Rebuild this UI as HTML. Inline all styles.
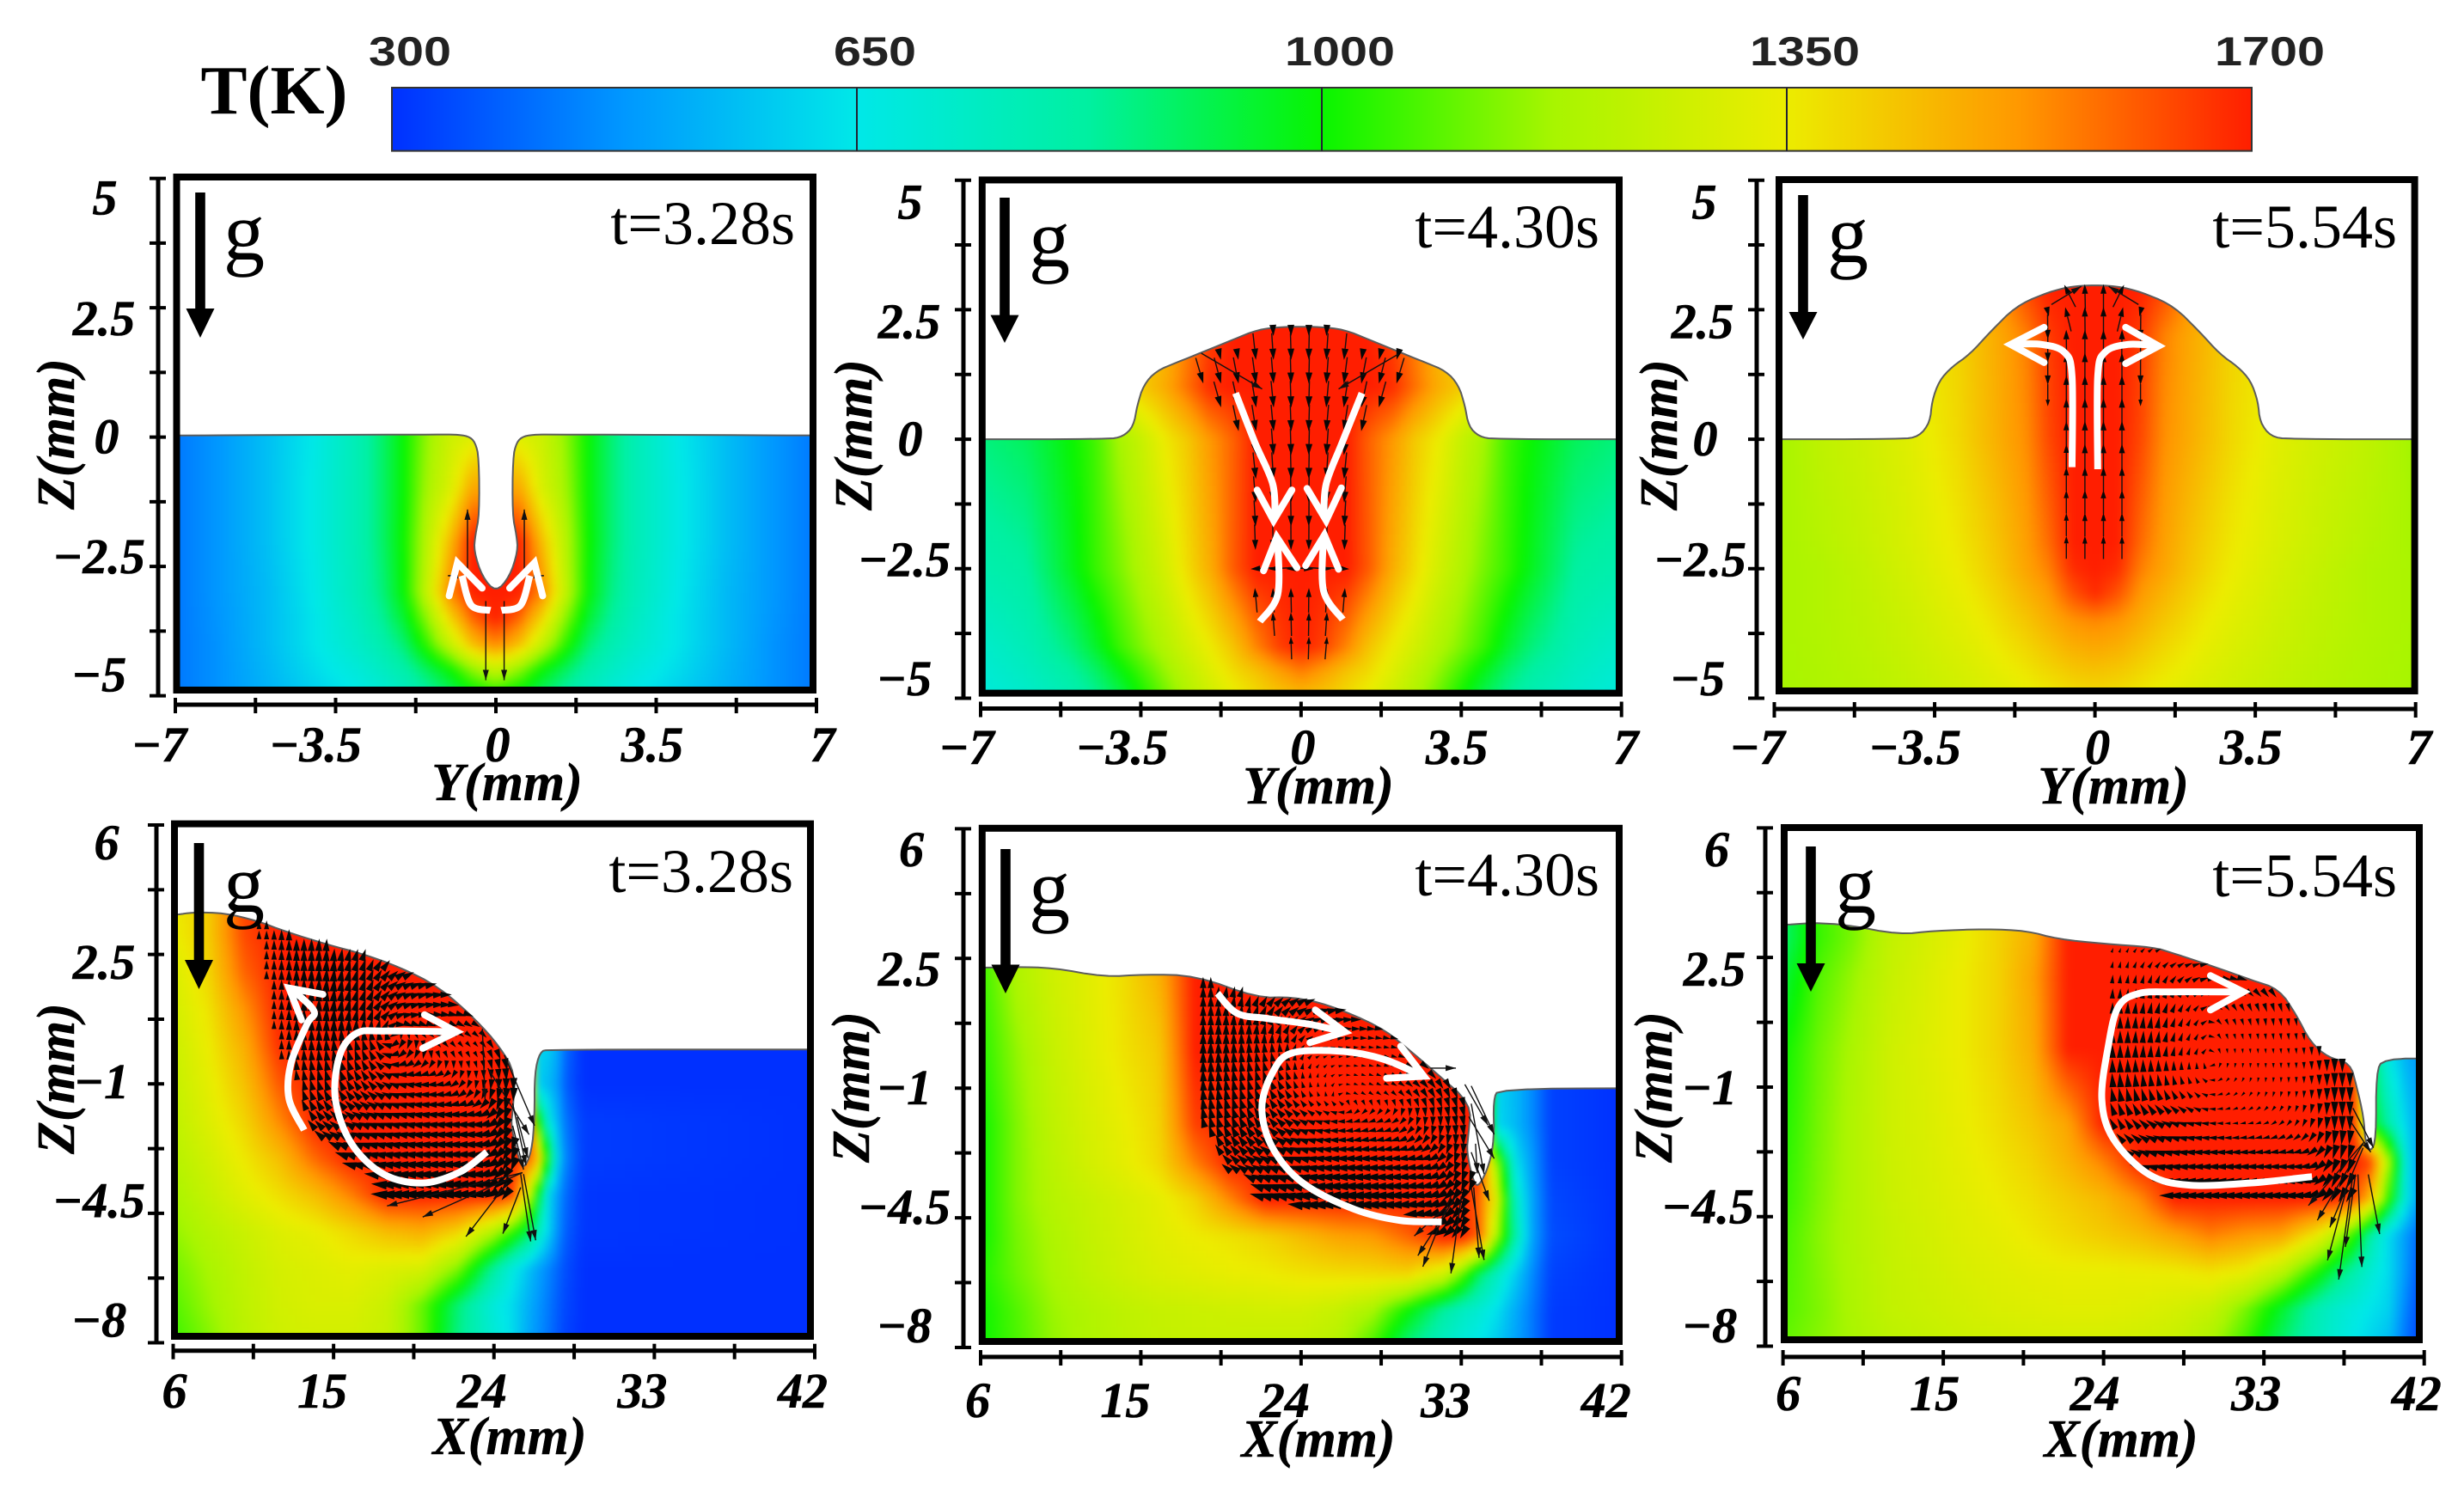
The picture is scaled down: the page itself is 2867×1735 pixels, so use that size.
<!DOCTYPE html>
<html lang="en">
<head>
<meta charset="utf-8">
<title>Weld pool temperature and flow fields</title>
<style>
html,body{margin:0;padding:0;background:#fff;}
#page{position:relative;width:2867px;height:1735px;overflow:hidden;background:#fff;}
svg{position:absolute;left:0;top:0;}
.tick{font-family:"Liberation Serif",serif;font-weight:bold;font-style:italic;font-size:58px;fill:#000;stroke:#000;stroke-width:.6px;text-anchor:middle;}
.title{font-family:"Liberation Serif",serif;font-weight:bold;font-style:italic;font-size:62px;fill:#000;stroke:#000;stroke-width:.5px;text-anchor:middle;}
.time{font-family:"Liberation Serif",serif;font-size:72px;fill:#000;text-anchor:end;}
.grav{font-family:"Liberation Serif",serif;font-size:96px;fill:#000;text-anchor:middle;}
.cb{font-family:"Liberation Sans",sans-serif;font-weight:bold;font-size:47px;fill:#222;text-anchor:middle;}
</style>
</head>
<body>
<div id="page">
<svg id="fig" width="2867" height="1735" viewBox="0 0 2867 1735" xmlns="http://www.w3.org/2000/svg">
  <defs>
    <filter id="smooth" filterUnits="userSpaceOnUse" x="0" y="0" width="2867" height="1735" color-interpolation-filters="sRGB"><feGaussianBlur stdDeviation="4"/></filter>
    <linearGradient id="cbGrad" x1="0" x2="1" y1="0" y2="0"></linearGradient>
  </defs>

  <text x="319" y="132" font-family="'Liberation Serif',serif" font-weight="bold" font-size="81" text-anchor="middle">T(K)</text>
  <g id="colorbar"></g>

  <g id="panel1"></g>
  <g id="panel2"></g>
  <g id="panel3"></g>
  <g id="panel4"></g>
  <g id="panel5"></g>
  <g id="panel6"></g>

  <g>
    <text class="time" x="925" y="284">t=3.28s</text>
    <text class="time" x="1861" y="288">t=4.30s</text>
    <text class="time" x="2789" y="288">t=5.54s</text>
    <text class="time" x="923" y="1038">t=3.28s</text>
    <text class="time" x="1861" y="1042">t=4.30s</text>
    <text class="time" x="2789" y="1043">t=5.54s</text>

    <polygon points="227.2,224 238.8,224 238.8,359 249.5,359 233,393 216.5,359 227.2,359"/>
    <polygon points="1163.2,230 1174.8,230 1174.8,366.6 1185.5,366.6 1169,399 1152.5,366.6 1163.2,366.6"/>
    <polygon points="2092.2,227 2103.8,227 2103.8,363 2114.5,363 2098,395 2081.5,363 2092.2,363"/>
    <polygon points="225.7,981 237.3,981 237.3,1117 248,1117 231.5,1151 215,1117 225.7,1117"/>
    <polygon points="1164.2,988 1175.8,988 1175.8,1122.5 1186.5,1122.5 1170,1156 1153.5,1122.5 1164.2,1122.5"/>
    <polygon points="2101.2,985 2112.8,985 2112.8,1121 2123.5,1121 2107,1154 2090.5,1121 2101.2,1121"/>

    <text class="grav" x="284" y="302">g</text>
    <text class="grav" x="1221" y="310">g</text>
    <text class="grav" x="2150" y="305">g</text>
    <text class="grav" x="284" y="1061">g</text>
    <text class="grav" x="1221" y="1066">g</text>
    <text class="grav" x="2159" y="1062">g</text>

    <text class="title" x="590" y="931">Y(mm)</text>
    <text class="title" x="1534" y="935">Y(mm)</text>
    <text class="title" x="2459" y="935">Y(mm)</text>
    <text class="title" x="593" y="1692">X(mm)</text>
    <text class="title" x="1534" y="1695">X(mm)</text>
    <text class="title" x="2468" y="1695">X(mm)</text>

    <text class="title" transform="translate(86,505) rotate(-90)">Z(mm)</text>
    <text class="title" transform="translate(1014,506) rotate(-90)">Z(mm)</text>
    <text class="title" transform="translate(1951,506) rotate(-90)">Z(mm)</text>
    <text class="title" transform="translate(86,1255) rotate(-90)">Z(mm)</text>
    <text class="title" transform="translate(1011,1265) rotate(-90)">Z(mm)</text>
    <text class="title" transform="translate(1945,1265) rotate(-90)">Z(mm)</text>
  </g>
</svg>
</div>

<script>
/* ---------- colour scale ---------- */
const colorKelvin = [300, 475, 650, 825, 1000, 1175, 1350, 1525, 1700];
const colorRGB = [[0,48,255],[0,152,255],[0,232,232],[0,240,160],[8,245,0],[168,245,0],[236,236,0],[255,152,0],[255,30,0]];
const colorbarTicks = [300, 650, 1000, 1350, 1700];
const colorbarLabels = ['300', '650', '1000', '1350', '1700'];

/* ---------- axis ticks ---------- */
const topYTicks = [-7, -3.5, 0, 3.5, 7];
const topYLabels = ['\u22127', '\u22123.5', '0', '3.5', '7'];
const topZTicks = [5, 2.5, 0, -2.5, -5];
const topZLabels = ['5', '2.5', '0', '\u22122.5', '\u22125'];
const bottomXTicks = [6, 15, 24, 33, 42];
const bottomXLabels = ['6', '15', '24', '33', '42'];
const bottomZTicks = [6, 2.5, -1, -4.5, -8];
const bottomZLabels = ['6', '2.5', '\u22121', '\u22124.5', '\u22128'];

/* ---------- panel 1 (Y section, t=3.28 s) temperature K; |Y| columns ---------- */
const temp1Cols = [0, .5, 1, 1.5, 2, 2.5, 3, 4, 5, 6, 7];
const temp1Rows = [.2, -1, -2, -3, -3.5, -4, -4.5, -5];
const temp1 = [
 [1300,1280,1260,1150,1000,880,780,650,560,480,420],
 [1500,1500,1300,1180,1000,880,780,660,560,480,420],
 [1700,1700,1450,1220,1010,880,780,660,560,480,420],
 [1700,1700,1550,1250,1000,860,770,650,550,480,420],
 [1700,1600,1400,1150,950,830,750,640,550,475,420],
 [1550,1450,1250,1050,880,790,730,640,550,470,420],
 [1250,1150,1000,900,800,740,690,620,540,470,420],
 [1000,950,880,800,740,690,650,590,530,470,420]
];
const surf1Y = [7.5,1.2,.9,.6,.45,.37,.36,.45,.48,.3,0];
const surf1Z = [.03,.05,.05,.02,-.1,-.4,-1.5,-1.9,-2.2,-2.7,-3.0];

/* ---------- panel 2 (Y section, t=4.30 s) ---------- */
const temp2Cols = [0,.5,1,1.5,2,2.5,3,3.5,4,4.5,5,6,7];
const temp2Rows = [2.2,1,0,-2.5,-4,-4.5,-5];
const temp2 = [
 [1700,1700,1700,1700,1650,1550,1450,1400,1350,1300,1200,1000,900],
 [1700,1700,1700,1700,1680,1580,1480,1420,1350,1300,1100,950,880],
 [1700,1700,1700,1600,1520,1420,1350,1250,1170,1060,1000,900,860],
 [1700,1700,1700,1610,1480,1380,1280,1200,1120,1050,970,820,790],
 [1700,1650,1550,1430,1350,1280,1200,1130,1050,950,870,770,720],
 [1560,1500,1430,1380,1310,1230,1150,1060,970,880,820,745,700],
 [1440,1420,1380,1330,1260,1190,1100,1000,900,830,780,720,680]
];
const surf2Y = [7.5,4.22,3.89,3.66,3.58,3.44,3.16,2.72,2.16,1.49,.94,.38,0];
const surf2Z = [0,0,.05,.25,.65,1.05,1.32,1.48,1.68,1.92,2.12,2.17,2.17];

/* ---------- panel 3 (Y section, t=5.54 s) ---------- */
const temp3Cols = [0,.5,1,1.5,2,2.5,3,4,5,6,7];
const temp3Rows = [3,2,0,-2,-2.5,-3,-3.5,-5];
const temp3 = [
 [1700,1700,1700,1650,1550,1500,1450,1400,1350,1300,1250],
 [1700,1700,1660,1560,1500,1450,1400,1350,1300,1250,1200],
 [1700,1700,1640,1540,1490,1440,1390,1320,1270,1230,1165],
 [1700,1700,1590,1510,1450,1400,1360,1300,1250,1210,1175],
 [1700,1680,1560,1500,1440,1390,1350,1290,1240,1200,1180],
 [1680,1620,1520,1465,1415,1370,1335,1280,1235,1200,1180],
 [1550,1530,1480,1430,1390,1350,1320,1270,1230,1200,1180],
 [1380,1370,1350,1330,1310,1290,1270,1240,1210,1190,1170]
];
const surf3Y = [7.5,4.23,3.84,3.6,3.56,3.4,3.12,2.73,2.28,1.73,1.17,.61,0];
const surf3Z = [0,0,.05,.33,.73,1.13,1.4,1.64,2.08,2.56,2.79,2.94,2.98];

/* ---------- panel 4 (X section, t=3.28 s) ---------- */
const temp4Cols = [6,8,10,12,14,16,18,20,22,24,25,26,26.5,27,27.5,28,29,42];
const temp4Rows = [4,3,2,1,0,-1,-2,-3,-4,-5,-6,-7,-8];
const temp4 = [
 [1350,1420,1650,1700,1700,1700,1700,1700,1700,1700,1700,1700,600,600,530,400,300,300],
 [1340,1420,1640,1700,1700,1700,1700,1700,1700,1700,1700,1700,600,600,530,400,300,300],
 [1300,1400,1600,1700,1700,1700,1700,1700,1700,1700,1700,1700,600,600,530,400,300,300],
 [1280,1370,1530,1700,1700,1700,1700,1700,1700,1700,1700,1700,600,600,530,400,300,300],
 [1260,1350,1480,1680,1700,1700,1700,1700,1700,1700,1700,1700,600,600,530,400,300,300],
 [1245,1330,1440,1620,1700,1700,1700,1700,1700,1700,1700,1700,600,550,500,380,300,300],
 [1230,1310,1400,1550,1700,1700,1700,1700,1700,1700,1700,1700,1000,700,550,420,320,300],
 [1210,1280,1360,1450,1600,1700,1700,1700,1700,1700,1700,1600,1450,1000,650,450,320,300],
 [1180,1250,1320,1380,1450,1560,1700,1700,1700,1700,1650,1250,950,650,500,400,310,300],
 [1150,1210,1260,1310,1340,1390,1450,1480,1400,1200,1060,900,760,620,480,380,310,300],
 [1110,1180,1240,1290,1310,1330,1310,1290,1130,820,680,560,500,450,400,350,300,300],
 [1080,1160,1230,1280,1300,1300,1260,1100,870,680,620,520,470,430,380,340,300,300],
 [1050,1130,1220,1270,1280,1280,1250,1100,850,700,630,500,460,420,370,330,300,300]
];
const surf4X = [5,6.25,7.05,8.9,10.7,12.3,14.7,16.6,18.7,20.9,23,24.3,25.2,25.05,24.95,25.35,25.66,26.12,26.28,26.28,26.58,27.05,43];
const surf4Z = [3.57,3.57,3.64,3.62,3.41,3.12,2.76,2.52,2.16,1.63,.73,.02,-.7,-1.77,-2.13,-2.96,-3.32,-2.84,-1.89,-.7,-.13,-.07,-.07];

/* ---------- panel 5 (X section, t=4.30 s) ---------- */
const temp5Cols = [6,8,10,12,14,16,18,20,22,24,26,28,30,32,33,34,35,36,37,38,42];
const temp5Rows = [3,2,0,-2,-3,-4,-5,-6,-7,-8];
const temp5 = [
 [1050,1190,1270,1320,1380,1470,1700,1700,1700,1700,1700,1700,1700,1700,1700,1700,600,550,450,330,300],
 [1050,1190,1270,1320,1380,1470,1700,1700,1700,1700,1700,1700,1700,1700,1700,1700,600,550,450,330,300],
 [1030,1150,1250,1310,1370,1420,1700,1700,1700,1700,1700,1700,1700,1700,1700,1700,600,550,450,330,300],
 [1000,1130,1230,1290,1340,1400,1650,1700,1700,1700,1700,1700,1700,1700,1700,1700,620,550,450,330,300],
 [1000,1130,1220,1280,1330,1390,1560,1700,1700,1700,1700,1700,1700,1700,1700,1700,1150,650,480,330,300],
 [1000,1130,1210,1250,1290,1330,1400,1550,1700,1700,1700,1700,1700,1700,1700,1600,1300,750,500,340,300],
 [1000,1120,1190,1240,1280,1320,1350,1370,1400,1450,1500,1520,1600,1700,1700,1600,1180,800,500,350,300],
 [1020,1110,1180,1230,1270,1300,1320,1340,1350,1370,1380,1390,1400,1280,1120,900,750,600,450,330,300],
 [1000,1080,1160,1200,1230,1250,1260,1270,1280,1280,1250,1180,1000,820,750,700,630,520,420,320,300],
 [1000,1070,1150,1190,1220,1240,1250,1250,1240,1240,1210,1060,850,730,680,640,580,500,420,320,300]
];
const surf5X = [5,6.25,7.8,10.07,12.93,15.2,18.1,21.5,23.5,25.5,28.4,29.84,31.56,33.56,33.4,33.3,33.7,34,34.57,34.85,34.8,35.1,43];
const surf5Z = [2.25,2.25,2.27,2.25,2,2.07,2.04,1.44,1.46,1.26,.67,.13,-.58,-1.42,-2.25,-2.73,-3.56,-3.65,-3.08,-2.37,-1.3,-1.02,-1];

/* ---------- panel 6 (X section, t=5.54 s) ---------- */
const temp6Cols = [6,8,10,12,14,16,18,20,22,24,26,28,30,32,34,36,37,38,39,40,41,42];
const temp6Rows = [3,2,0,-2,-3,-4,-5,-6,-7,-8];
const temp6 = [
 [880,1050,1130,1240,1290,1340,1400,1480,1700,1700,1700,1700,1700,1700,1700,1700,1700,1700,900,650,520,450],
 [930,1080,1160,1250,1300,1350,1400,1500,1700,1700,1700,1700,1700,1700,1700,1700,1700,1700,900,650,520,450],
 [1000,1110,1190,1270,1310,1350,1400,1480,1700,1700,1700,1700,1700,1700,1700,1700,1700,1700,900,650,520,450],
 [1020,1120,1200,1270,1300,1340,1380,1430,1500,1700,1700,1700,1700,1700,1700,1700,1700,1700,1000,800,600,470],
 [1030,1125,1200,1265,1295,1330,1365,1405,1470,1560,1700,1700,1700,1700,1700,1700,1700,1700,1650,1200,660,420],
 [1040,1130,1200,1260,1290,1320,1350,1380,1420,1460,1540,1700,1700,1700,1700,1700,1700,1650,1450,1050,660,420],
 [1060,1140,1200,1250,1280,1310,1330,1360,1390,1420,1450,1500,1560,1520,1500,1350,1220,1050,800,620,480,350],
 [1070,1135,1195,1245,1270,1295,1315,1330,1340,1340,1345,1350,1370,1340,1220,1020,900,800,700,620,470,320],
 [1080,1130,1190,1240,1260,1280,1300,1310,1320,1320,1310,1290,1250,1120,950,780,720,680,640,600,430,320],
 [1100,1140,1180,1220,1240,1260,1270,1280,1280,1280,1270,1250,1180,1050,880,750,700,650,600,550,400,320]
];
const surf6X = [5,6.23,7.66,9.66,12.5,14.5,17.4,19.7,21.4,24,26.8,28,30.1,32.3,33.85,34.85,35.6,36.6,37.85,38.2,38.6,38.7,39,39.3,39.3,39.7,43];
const surf6Z = [3.38,3.38,3.44,3.38,3.12,3.22,3.27,3.22,3,2.87,2.78,2.6,2.27,1.89,1.65,.93,.22,-.2,-.35,-.97,-1.8,-2.5,-2.76,-2.4,-.6,-.23,-.23];

/* ---------- velocity direction (deg) and relative speed ---------- */
const vec2Cols = [-2,-1,0,1,2];
const vec2Rows = [2,.5,-1,-2,-3,-4.2];
const vec2Angle = [[-75,-85,-90,-95,-105],[-72,-80,-90,-100,-108],[-80,-85,-90,-95,-100],[-90,-88,-90,-92,-90],[100,95,90,85,80],[110,100,90,80,70]];
const vec2Speed = [[1,1,1,1,1],[1,1,1,1,1],[1,1,1,1,1],[.9,.9,.9,.9,.9],[.8,.8,.8,.8,.8],[.6,.6,.6,.6,.6]];

const vec3Cols = [-1,-.6,-.2,.2,.6,1];
const vec3Rows = [3,2,1,0,-2.1];
const vec3Angle = [[-60,120,90,90,60,-120],[-90,90,90,90,90,-90],[-90,90,90,90,90,-90],[-90,90,90,90,90,-90],[90,90,90,90,90,90]];
const vec3Speed = [[1,1,1,1,1,1],[1,1,1,1,1,1],[1,1,1,1,1,1],[0,1,1,1,1,0],[0,.8,.8,.8,.8,0]];

const vec4Cols = [11,13,15,17,19,21,23,25];
const vec4Rows = [3,2,1,0,-1,-2,-3,-4,-5];
const vec4Angle = [
 [90,90,85,70,40,20,0,-20],
 [90,90,85,70,30,10,-10,-30],
 [90,90,85,70,20,0,-20,-50],
 [90,90,95,110,-120,-50,-50,-70],
 [95,100,110,130,170,-170,-100,-90],
 [110,120,140,160,170,175,180,-100],
 [130,145,160,170,175,180,180,-110],
 [150,160,170,175,180,180,185,-120],
 [150,160,170,175,180,180,185,-120]
];
const vec4Speed = [
 [.7,1,1,1,1,1,1,1],
 [.7,1,1.1,1,1,1,1,1.1],
 [.6,1,1.1,1,.9,.9,.9,1.1],
 [.6,.9,1,.9,.8,.6,.5,1.1],
 [.6,.9,1,.9,.9,.8,.7,1.1],
 [.7,1,1,1,1,1,1,1.2],
 [.9,1.1,1.2,1.1,1.1,1.1,1.1,1.2],
 [1,1.3,1.4,1.4,1.3,1.3,1.2,1.2],
 [1,1.3,1.3,1.3,1.3,1.3,1.2,1.2]
];

const vec5Cols = [19,21,23,25,27,29,31,33];
const vec5Rows = [2,1,0,-1,-2,-3,-4,-5];
const vec5Angle = [
 [90,60,30,10,0,-10,-20,-30],
 [90,85,50,20,0,-15,-30,-40],
 [90,95,100,20,0,-10,-30,-50],
 [95,105,120,100,-20,-30,-50,-70],
 [105,120,140,170,-170,-160,-100,-80],
 [130,145,160,175,180,180,-170,-100],
 [160,165,170,180,180,180,190,-120],
 [160,165,170,180,180,180,190,-120]
];
const vec5Speed = [
 [1,1,1,1,1,1,1,1],
 [1,1,1,1,1,1,1,1],
 [1.1,1,.8,.4,.4,.5,.9,1],
 [1.1,1,.9,.4,.4,.5,.9,1],
 [1.1,1.1,1,.8,.7,.7,.8,1],
 [1,1.1,1.2,1.1,1.1,1,1,1],
 [1.1,1.3,1.4,1.4,1.4,1.3,1.2,1.2],
 [1.2,1.2,1.2,1.2,1.2,1.2,1.2,1.2]
];

const vec6Cols = [25,27,29,31,33,35,37];
const vec6Rows = [2.7,2,1,0,-1,-2,-3,-4,-5];
const vec6Angle = [
 [70,30,10,0,-10,-30,-60],
 [85,70,30,-10,-20,-50,-70],
 [90,80,60,-60,-80,-80,-85],
 [90,85,70,-80,-85,-85,-90],
 [95,100,120,-140,-100,-90,-90],
 [120,150,170,180,-160,-120,-90],
 [150,170,180,180,180,180,-110],
 [170,180,180,180,180,180,-120],
 [180,180,180,180,180,180,180]
];
const vec6Speed = [
 [.4,.5,.6,.8,1,1,1],
 [.7,.7,.7,.8,1,1,1],
 [1,1,.6,.6,.7,.7,1.1],
 [1.1,1,.6,.4,.4,.5,1.1],
 [1.2,1,.6,.4,.4,.5,1.2],
 [1,1,.8,.5,.5,.6,1.2],
 [1,1.1,1,1,.9,.9,1.2],
 [1.1,1.2,1.2,1.2,1.2,1.2,1.3],
 [.8,.8,.8,.8,.8,.8,.8]
];

/* ---------- long thin velocity vectors [x0,z0,x1,z1] in mm ---------- */
const thin1 = [[-.62,-2.68,-.62,-1.4],[.62,-2.68,.62,-1.4],[-.22,-3.17,-.22,-4.7],[.18,-3.17,.18,-4.7],[-.9,-2.68,-1.05,-2.68],[.9,-2.68,1.05,-2.68]];
const thin2 = [[-2.18,1.66,-.85,.97],[2.12,1.64,.82,.97]];
const thin3 = [[-.95,2.6,-.3,2.95],[.95,2.6,.3,2.95]];
const thin4 = [[24.74,-3.68,22.43,-5.13],[25.5,-3.8,24.5,-5.05],[25.5,-3.44,26.06,-5.26],[25.66,-3.44,26.34,-5.23],[23.35,.49,23.5,-1.41],[23.66,-.58,25.97,-2.37],[24.58,-.22,26.28,-2.13],[25.05,-1.53,25.8,-3.2],[25.05,-2.13,25.66,-3.32],[25.3,-1.9,25.9,-3],[25.6,-3.4,18,-4.3],[25.6,-3.4,20,-4.6]];
const thin5 = [[32.42,-3.92,30.84,-5.82],[32.7,-3.92,30.56,-5.52],[33,-3.92,32.42,-6],[33.56,-3.68,34.28,-5.64],[33.7,-3.68,34,-5.58],[32,-4.27,30.36,-4.99],[33.56,-.94,34.85,-2.25],[33.42,-1.77,34.85,-2.9],[33.56,-2.73,34.57,-4.04],[33.56,-1.42,34.28,-3.32],[31.27,-.46,32.7,-.46],[33.2,-.9,34.5,-2],[33.8,-2.5,33.9,-3.3]];
const thin6 = [[37.85,-3.36,36.57,-5.68],[38,-3.36,37.2,-6.2],[38.14,-3.36,37.57,-5.32],[38.28,-3.36,38.5,-5.86],[38.86,-3.36,39.5,-4.97],[38.57,-2.64,36.7,-4.79],[37.7,-1.81,39,-2.76],[38,-1.57,39.15,-2.64],[38.6,-2.5,35.5,-4.2],[38.6,-2.5,36,-4.6]];

/* ---------- white flow annotations, polylines in mm ---------- */
const flow1Shafts = [[[-.12,-3.35],[-.54,-3.25],[-.74,-2.68]],[[.12,-3.35],[.54,-3.25],[.74,-2.68]]];
const flow1Heads = [[[-1.02,-3.07],[-.84,-2.43],[-.3,-2.92]],[[1.02,-3.07],[.84,-2.43],[.3,-2.92]]];
const flow2Shafts = [[[-1.43,.89],[-1.01,-.06],[-.62,-.86],[-.57,-1.49]],[[1.33,.89],[.9,-.06],[.55,-.86],[.5,-1.49]],[[-.9,-3.52],[-.51,-3],[-.51,-1.97]],[[.91,-3.48],[.49,-2.92],[.49,-1.89]]];
const flow2Heads = [[[-.96,-.98],[-.6,-1.57],[-.2,-.98]],[[.88,-.94],[.55,-1.57],[.13,-.95]],[[-.82,-2.54],[-.53,-1.89],[-.09,-2.48]],[[.82,-2.51],[.51,-1.85],[.1,-2.44]]];
const flow3Shafts = [[[-.5,-.54],[-.5,1.21],[-.67,1.68],[-1.17,1.83],[-1.84,1.83]],[[.06,-.58],[.06,1.21],[.22,1.68],[.72,1.83],[1.39,1.8]]];
const flow3Heads = [[[-1.11,2.16],[-1.84,1.83],[-1.11,1.48]],[[.67,2.16],[1.39,1.8],[.67,1.46]]];
const flow4Shafts = [[[13.35,-2.25],[12.5,-1.41],[12.6,-.46],[13.5,.61],[13.9,.97],[12.7,1.54]],[[23.6,-2.84],[22.1,-3.38],[20,-3.68],[17.8,-3.44],[16,-2.61],[15.1,-1.41],[15.35,-.22],[16.3,.37],[17.8,.43],[21.8,.41]]];
const flow4Heads = [[[14.4,1.42],[12.5,1.59],[13.2,.73]],[[20.1,.87],[21.9,.41],[20,-.04]]];
const flow5Shafts = [[[19.3,1.56],[20.4,1.02],[22.1,.88],[24.4,.73],[26.4,.52]],[[31.9,-4.61],[29.55,-4.57],[27,-4.27],[24.1,-3.56],[22.4,-2.61],[21.8,-1.54],[22.4,-.58],[23.5,-.05],[26.4,-.01],[28.7,-.23],[30.84,-.68]]];
const flow5Heads = [[[24.8,1.11],[26.46,.52],[24.5,.23]],[[29.6,.13],[30.9,-.68],[28.8,-.73]]];
const flow6Shafts = [[[35.7,-3.42],[32.3,-3.59],[28.84,-3.65],[26.55,-3.36],[24.55,-2.4],[23.9,-1.33],[24.26,.1],[24.83,1.17],[26,1.53],[28,1.57],[31.7,1.57]]];
const flow6Heads = [[[30,2.01],[31.85,1.57],[30,1.08]]];

/* ---------- panel layout ---------- */
const panels = [
 {id:'panel1',name:'top-1',mirror:true,xd:[-7,7],zd:[5,-5],xPx:[204,950],zPx:[207.6,809.6],spine:184,axisY:820,frame:[201.5,202,950,807],
  tc:temp1Cols,tr:temp1Rows,t:temp1,sx:surf1Y,sz:surf1Z,thin:thin1,shafts:flow1Shafts,heads:flow1Heads,
  xt:topYTicks,xl:topYLabels,zt:topZTicks,zl:topZLabels,xShift:[-19,-23.5,2,-4.5,7],labelY:886,zShiftX:[-62,-63,-60,-69,-69],zShiftY:[23,13,0,-11,-24]},
 {id:'panel2',name:'top-2',mirror:true,xd:[-7,7],zd:[5,-5],xPx:[1141,1886.7],zPx:[209.7,812.5],spine:1121,axisY:824.5,frame:[1138.8,205.4,1888,810.6],
  tc:temp2Cols,tr:temp2Rows,t:temp2,sx:surf2Y,sz:surf2Z,thin:thin2,shafts:flow2Shafts,heads:flow2Heads,
  vec:{c:vec2Cols,r:vec2Rows,a:vec2Angle,s:vec2Speed,x0:-2.17,x1:2.2,dx:.39,z0:2.1,z1:-4.25,dz:.46,minT:1640,L:13,W:8,tail:18,cut:.1},
  xt:topYTicks,xl:topYLabels,zt:topZTicks,zl:topZLabels,xShift:[-16.5,-22,2,-5,5],labelY:889,zShiftX:[-62,-63,-62,-69,-69],zShiftY:[26,14,0,-10.5,-22.5]},
 {id:'panel3',name:'top-3',mirror:true,xd:[-7,7],zd:[5,-5],xPx:[2064.5,2810.7],zPx:[209.7,812.5],spine:2044,axisY:825,frame:[2066,205,2813.6,808],
  tc:temp3Cols,tr:temp3Rows,t:temp3,sx:surf3Y,sz:surf3Z,thin:thin3,shafts:flow3Shafts,heads:flow3Heads,
  vec:{c:vec3Cols,r:vec3Rows,a:vec3Angle,s:vec3Speed,x0:-1.03,x1:1.05,dx:.405,z0:2.9,z1:-2.15,dz:.44,minT:1400,L:11,W:7,tail:18,cut:.6},
  xt:topYTicks,xl:topYLabels,zt:topZTicks,zl:topZLabels,xShift:[-20,-23,3,-5,4],labelY:889,zShiftX:[-61,-63,-60,-66,-69],zShiftY:[26,14,0,-10.5,-22.5]},
 {id:'panel4',name:'bottom-1',mirror:false,xd:[6,42],zd:[6,-8],xPx:[201.5,948],zPx:[960,1562.5],spine:182,axisY:1571.7,frame:[199,954.6,947,1559],
  tc:temp4Cols,tr:temp4Rows,t:temp4,sx:surf4X,sz:surf4Z,thin:thin4,shafts:flow4Shafts,heads:flow4Heads,
  vec:{c:vec4Cols,r:vec4Rows,a:vec4Angle,s:vec4Speed,x0:10.4,x1:26,dx:.42,z0:3.3,z1:-5,dz:.27,minT:1660,L:14,W:8,tail:0,cut:.1},
  xt:bottomXTicks,xl:bottomXLabels,zt:bottomZTicks,zl:bottomZLabels,xShift:[1.5,-13,-14,-14,-14],labelY:1638,zShiftX:[-58,-61,-64,-67,-67],zShiftY:[21,9.5,-2.5,-14.5,-26]},
 {id:'panel5',name:'bottom-2',mirror:false,xd:[6,42],zd:[6,-8],xPx:[1141,1886.7],zPx:[964.4,1568],spine:1121,axisY:1579,frame:[1138.8,959.8,1888,1565],
  tc:temp5Cols,tr:temp5Rows,t:temp5,sx:surf5X,sz:surf5Z,thin:thin5,shafts:flow5Shafts,heads:flow5Heads,
  vec:{c:vec5Cols,r:vec5Rows,a:vec5Angle,s:vec5Speed,x0:18.5,x1:34.5,dx:.43,z0:2.1,z1:-4.9,dz:.25,minT:1660,L:13,W:7.5,tail:0,cut:.1},
  xt:bottomXTicks,xl:bottomXLabels,zt:bottomZTicks,zl:bottomZLabels,xShift:[-3.4,-18,-19,-18,-18],labelY:1649,zShiftX:[-60.5,-63,-69,-69,-69],zShiftY:[24.6,12.6,0,-12,-25]},
 {id:'panel6',name:'bottom-3',mirror:false,xd:[6,42],zd:[6,-8],xPx:[2074.6,2820.7],zPx:[963.4,1566.5],spine:2054,axisY:1579,frame:[2072,959,2819,1563],
  tc:temp6Cols,tr:temp6Rows,t:temp6,sx:surf6X,sz:surf6Z,thin:thin6,shafts:flow6Shafts,heads:flow6Heads,
  vec:{c:vec6Cols,r:vec6Rows,a:vec6Angle,s:vec6Speed,x0:24.5,x1:38,dx:.43,z0:2.7,z1:-4.9,dz:.39,minT:1660,L:14,W:7,tail:0,cut:.1},
  xt:bottomXTicks,xl:bottomXLabels,zt:bottomZTicks,zl:bottomZLabels,xShift:[6,-10,-10,-9,-9],labelY:1641,zShiftX:[-56.5,-59,-65,-67,-65],zShiftY:[25.6,13.6,1,-11,-23.5]}
];

const NS = 'http://www.w3.org/2000/svg';
function mk(tag, attrs, parent) {
  const el = document.createElementNS(NS, tag);
  for (const k in attrs) el.setAttribute(k, attrs[k]);
  if (parent) parent.appendChild(el);
  return el;
}
function kelvinColor(T) {
  const v = Math.max(colorKelvin[0], Math.min(colorKelvin[colorKelvin.length - 1], T));
  let i = 0;
  while (i < colorKelvin.length - 2 && v > colorKelvin[i + 1]) i++;
  const f = (v - colorKelvin[i]) / (colorKelvin[i + 1] - colorKelvin[i]);
  const a = colorRGB[i], b = colorRGB[i + 1];
  return 'rgb(' + Math.round(a[0] + (b[0] - a[0]) * f) + ',' + Math.round(a[1] + (b[1] - a[1]) * f) + ',' + Math.round(a[2] + (b[2] - a[2]) * f) + ')';
}
function bracket(arr, v) {
  const asc = arr[arr.length - 1] > arr[0];
  for (let i = 0; i < arr.length - 1; i++) {
    const a = arr[i], b = arr[i + 1];
    if (asc ? v <= b : v >= b) return [i, Math.max(0, Math.min(1, (v - a) / (b - a)))];
  }
  return [arr.length - 2, 1];
}
function bilerp(cols, rows, table, x, z) {
  const [i, fx] = bracket(cols, x);
  const [j, fz] = bracket(rows, z);
  const top = table[j][i] + (table[j][i + 1] - table[j][i]) * fx;
  const bot = table[j + 1][i] + (table[j + 1][i + 1] - table[j + 1][i]) * fx;
  return top + (bot - top) * fz;
}
function inPoly(poly, x, y) {
  let c = false;
  for (let i = 0, j = poly.length - 1; i < poly.length; j = i++) {
    const a = poly[i], b = poly[j];
    if ((a[1] > y) !== (b[1] > y) && x < (b[0] - a[0]) * (y - a[1]) / (b[1] - a[1]) + a[0]) c = !c;
  }
  return c;
}
function smoothPath(pts) {
  let d = 'M' + pts[0][0] + ' ' + pts[0][1];
  for (let i = 0; i < pts.length - 1; i++) {
    const p0 = pts[Math.max(0, i - 1)], p1 = pts[i], p2 = pts[i + 1], p3 = pts[Math.min(pts.length - 1, i + 2)];
    d += 'C' + (p1[0] + (p2[0] - p0[0]) / 6) + ' ' + (p1[1] + (p2[1] - p0[1]) / 6) + ' ' + (p2[0] - (p3[0] - p1[0]) / 6) + ' ' + (p2[1] - (p3[1] - p1[1]) / 6) + ' ' + p2[0] + ' ' + p2[1];
  }
  return d;
}
/* rounds the corners of a surface outline, keeping its end points */
function roundCorners(pts, passes) {
  let cur = pts;
  for (let n = 0; n < passes; n++) {
    const next = [cur[0]];
    for (let i = 0; i < cur.length - 1; i++) {
      const a = cur[i], b = cur[i + 1];
      next.push([a[0] * .75 + b[0] * .25, a[1] * .75 + b[1] * .25]);
      next.push([a[0] * .25 + b[0] * .75, a[1] * .25 + b[1] * .75]);
    }
    next.push(cur[cur.length - 1]);
    cur = next;
  }
  return cur;
}

/* ---------- colour bar ---------- */
(function () {
  const bar = document.getElementById('colorbar');
  const grad = document.getElementById('cbGrad');
  const cbX = t => 456 + (t - colorKelvin[0]) / (colorKelvin[colorKelvin.length - 1] - colorKelvin[0]) * (2620 - 456);
  colorKelvin.forEach(function (k) {
    mk('stop', {offset: (cbX(k) - 456) / (2620 - 456), 'stop-color': kelvinColor(k)}, grad);
  });
  const r = mk('rect', {x: 456, y: 102, width: 2164, height: 73.6, fill: 'url(#cbGrad)', stroke: '#333', 'stroke-width': 2}, bar);
  
  
  colorbarTicks.forEach(function (t, i) {
    if (i > 0 && i < colorbarTicks.length - 1) {
      const l = mk('line', {x1: cbX(t), x2: cbX(t), y1: 102, y2: 175.6, stroke: '#223', 'stroke-width': 2}, bar);
      
      
    }
    const s = colorbarLabels[i];
    const tx = mk('text', {class: 'cb', x: cbX(t) + 21, y: 76, textLength: s.length * 32, lengthAdjust: 'spacingAndGlyphs'}, bar);
    tx.textContent = s;
    
    
  });
})();

/* ---------- panels ---------- */
panels.forEach(function (p) {
  const g = document.getElementById(p.id);
  const xScale = v => p.xPx[0] + (v - p.xd[0]) / (p.xd[1] - p.xd[0]) * (p.xPx[1] - p.xPx[0]);
  const zScale = v => p.zPx[0] + (v - p.zd[0]) / (p.zd[1] - p.zd[0]) * (p.zPx[1] - p.zPx[0]);
  const xInv = px => p.xd[0] + (px - p.xPx[0]) / (p.xPx[1] - p.xPx[0]) * (p.xd[1] - p.xd[0]);
  const zInv = py => p.zd[0] + (py - p.zPx[0]) / (p.zPx[1] - p.zPx[0]) * (p.zd[1] - p.zd[0]);
  const tempAt = (x, z) => bilerp(p.tc, p.tr, p.t, p.mirror ? Math.abs(x) : x, z);
  const [fl, ft, fr, fb] = p.frame;

  /* material outline from the surface arrays */
  let surface = [];
  if (p.mirror) {
    for (let i = 0; i < p.sx.length; i++) surface.push([-p.sx[i], p.sz[i]]);
    for (let i = p.sx.length - 2; i >= 0; i--) surface.push([p.sx[i], p.sz[i]]);
  } else {
    for (let i = 0; i < p.sx.length; i++) surface.push([p.sx[i], p.sz[i]]);
  }
  const surfPx = roundCorners(surface.map(d => [xScale(d[0]), zScale(d[1])]), 2);
  const polyPx = surfPx.concat([[surfPx[surfPx.length - 1][0], fb + 30], [surfPx[0][0], fb + 30]]);
  const polyStr = polyPx.map(q => q[0].toFixed(1) + ',' + q[1].toFixed(1)).join(' ');

  const defs = document.querySelector('#fig defs');
  const cpA = mk('clipPath', {id: 'mat-' + p.id}, defs);
  mk('polygon', {points: polyStr}, cpA);
  const cpB = mk('clipPath', {id: 'frm-' + p.id}, defs);
  mk('rect', {x: fl + 2, y: ft + 2, width: fr - fl - 4, height: fb - ft - 4}, cpB);

  /* heatmap cells */
  const clipFrame = mk('g', {'clip-path': 'url(#frm-' + p.id + ')'}, g);
  
  
  const clipMat = mk('g', {'clip-path': 'url(#mat-' + p.id + ')'}, clipFrame);
  
  
  const heat = mk('g', {filter: 'url(#smooth)', 'shape-rendering': 'crispEdges'}, clipMat);
  
  
  const step = 8;
  for (let py = ft - 16; py < fb + 16; py += step) {
    for (let px = fl - 16; px < fr + 16; px += step) {
      const T = tempAt(xInv(px + step / 2), zInv(py + step / 2));
      const cell = mk('rect', {x: px, y: py, width: step + 1, height: step + 1, fill: kelvinColor(T)}, heat);
      
      
    }
  }

  /* surface line */
  const outline = mk('polyline', {points: surfPx.map(q => q[0].toFixed(1) + ',' + q[1].toFixed(1)).join(' '), fill: 'none', stroke: '#5c5c5c', 'stroke-width': 2}, clipFrame);
  
  

  /* lattice of velocity vectors */
  if (p.vec) {
    const v = p.vec;
    const vg = mk('g', {}, clipFrame);
    
    
    const cosTable = v.a.map(r => r.map(a => Math.cos(a * Math.PI / 180)));
    const sinTable = v.a.map(r => r.map(a => Math.sin(a * Math.PI / 180)));
    for (let z = v.z0; z >= v.z1; z -= v.dz) {
      for (let x = v.x0; x <= v.x1; x += v.dx) {
        const px = xScale(x), py = zScale(z);
        if (!inPoly(polyPx, px, py) || tempAt(x, z) < v.minT) continue;
        const speed = bilerp(v.c, v.r, v.s, x, z);
        if (speed < v.cut) continue;
        const cs = bilerp(v.c, v.r, cosTable, x, z);
        const sn = bilerp(v.c, v.r, sinTable, x, z);
        const n = Math.hypot(cs, sn) || 1;
        const ux = cs / n, uy = -sn / n;
        const L = v.L * speed, W = v.W * (v.tail ? Math.min(speed, 1) : speed);
        const tipX = px + ux * L / 2, tipY = py + uy * L / 2;
        const bx = px - ux * L / 2, by = py - uy * L / 2;
        const arrow = mk('polygon', {points: tipX.toFixed(1) + ',' + tipY.toFixed(1) + ' ' + (bx - uy * W / 2).toFixed(1) + ',' + (by + ux * W / 2).toFixed(1) + ' ' + (bx + uy * W / 2).toFixed(1) + ',' + (by - ux * W / 2).toFixed(1), fill: '#070707'}, vg);
        
        
        if (v.tail > 0) {
          const ex = bx - ux * v.tail, ey = by - uy * v.tail;
          if (inPoly(polyPx, ex, ey)) {
            const tailLine = mk('line', {x1: bx.toFixed(1), y1: by.toFixed(1), x2: ex.toFixed(1), y2: ey.toFixed(1), stroke: '#111', 'stroke-width': 1.4}, vg);
            
            
          }
        }
      }
    }
  }

  /* long thin vectors */
  p.thin.forEach(function (a) {
    const x0 = xScale(a[0]), y0 = zScale(a[1]), x1 = xScale(a[2]), y1 = zScale(a[3]);
    const d = Math.hypot(x1 - x0, y1 - y0) || 1, ux = (x1 - x0) / d, uy = (y1 - y0) / d;
    const ln = mk('line', {x1: x0, y1: y0, x2: x1, y2: y1, stroke: '#111', 'stroke-width': 1.4}, clipFrame);
    
    
    const bx = x1 - ux * 12, by = y1 - uy * 12;
    const hd = mk('polygon', {points: x1 + ',' + y1 + ' ' + (bx - uy * 3.5) + ',' + (by + ux * 3.5) + ' ' + (bx + uy * 3.5) + ',' + (by - ux * 3.5), fill: '#111'}, clipFrame);
    
    
  });

  /* white flow arrows */
  p.shafts.forEach(function (s) {
    const path = mk('path', {d: smoothPath(s.map(q => [xScale(q[0]), zScale(q[1])])), fill: 'none', stroke: '#fff', 'stroke-width': 8, 'stroke-linecap': 'butt'}, clipFrame);
    
    
  });
  p.heads.forEach(function (s) {
    const head = mk('polyline', {points: s.map(q => xScale(q[0]).toFixed(1) + ',' + zScale(q[1]).toFixed(1)).join(' '), fill: 'none', stroke: '#fff', 'stroke-width': 8, 'stroke-linejoin': 'miter', 'stroke-linecap': 'round'}, clipFrame);
    
    
  });

  /* frame */
  const frame = mk('rect', {x: fl + 4, y: ft + 4, width: fr - fl - 8, height: fb - ft - 8, fill: 'none', stroke: '#000', 'stroke-width': 8}, g);
  
  

  /* axes */
  const spine = mk('line', {x1: p.spine, x2: p.spine, y1: p.zPx[0], y2: p.zPx[1], stroke: '#000', 'stroke-width': 5}, g);
  
  
  const axisLine = mk('line', {x1: p.xPx[0], x2: p.xPx[1], y1: p.axisY, y2: p.axisY, stroke: '#000', 'stroke-width': 5}, g);
  
  
  for (let i = 0; i <= 8; i++) {
    const zv = p.zd[0] + (p.zd[1] - p.zd[0]) * i / 8;
    const xv = p.xd[0] + (p.xd[1] - p.xd[0]) * i / 8;
    const t1 = mk('line', {x1: p.spine - 10, x2: p.spine + 9, y1: zScale(zv), y2: zScale(zv), stroke: '#000', 'stroke-width': 4}, g);
    
    
    const t2 = mk('line', {x1: xScale(xv), x2: xScale(xv), y1: p.axisY - 8, y2: p.axisY + 10, stroke: '#000', 'stroke-width': 4}, g);
    
    
  }
  p.xt.forEach(function (v, i) {
    const t = mk('text', {class: 'tick', x: xScale(v) + p.xShift[i], y: p.labelY}, g);
    t.textContent = p.xl[i];
    
    
  });
  p.zt.forEach(function (v, i) {
    const t = mk('text', {class: 'tick', x: p.spine + p.zShiftX[i], y: zScale(v) + p.zShiftY[i] + 19}, g);
    t.textContent = p.zl[i];
    
    
  });
});
</script>
</body>
</html>
